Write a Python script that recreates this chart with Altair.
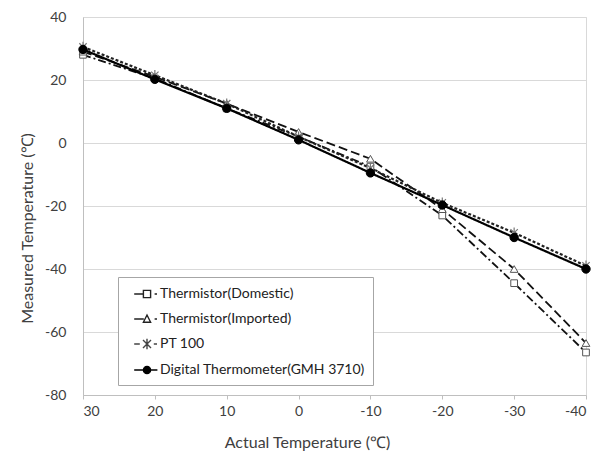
import altair as alt
import pandas as pd

actual = [30, 20, 10, 0, -10, -20, -30, -40]
domestic = [28, 20.5, 11, 2, -7.5, -23, -44.5, -66.5]
imported = [29, 21, 12.5, 3.5, -5, -21, -40, -63.5]
pt100 = [30.5, 21.5, 12.5, 2, -8, -19, -28.5, -39]
digital = [29.7, 20.2, 11, 1, -9.5, -19.7, -30, -40]

series_names = ["Thermistor(Domestic)", "Thermistor(Imported)", "PT 100",
                "Digital Thermometer(GMH 3710)"]
series_values = [domestic, imported, pt100, digital]
x_ticks = [30, 20, 10, 0, -10, -20, -30, -40]
y_ticks = [40, 20, 0, -20, -40, -60, -80]

rows = []
for name, vals in zip(series_names, series_values):
    for a, v in zip(actual, vals):
        rows.append({"series": name, "actual": a, "measured": v})
df = pd.DataFrame(rows)

FONT = "Lato"
TXT = "#404040"

xenc = alt.X("actual:Q",
             scale=alt.Scale(domain=[30, -40], nice=False, zero=False),
             axis=alt.Axis(values=x_ticks, title="Actual Temperature (℃)",
                           labelExpr="toString(datum.value)",
                           grid=False, ticks=True, tickSize=4, tickColor="#bfbfbf",
                           domainColor="#bfbfbf", labelFontSize=14, labelColor=TXT,
                           labelPadding=5, labelFont=FONT, titleFont=FONT,
                           titleFontSize=16, titleFontWeight="normal", titleColor=TXT,
                           titleX=224, titleY=47, titleAlign="center",
                           titleBaseline="middle"))
yenc = alt.Y("measured:Q",
             scale=alt.Scale(domain=[-80, 40], nice=False, zero=False),
             axis=alt.Axis(values=y_ticks, title="Measured Temperature (℃)",
                           labelExpr="toString(datum.value)",
                           grid=True, gridColor="#d9d9d9", ticks=False,
                           domainColor="#bfbfbf", labelFontSize=14, labelColor=TXT,
                           labelPadding=17, labelFont=FONT, titleFont=FONT,
                           titleFontSize=16, titleFontWeight="normal", titleColor=TXT,
                           titleX=-56, titleY=211, titleAngle=270, titleAlign="center",
                           titleBaseline="middle"))

base = alt.Chart(df)

dashes = [[8, 3, 2, 3], [9, 4], [3, 2], [1, 0]]
widths = [1.8, 1.8, 2.2, 2.2]
line_colors = ["#111111", "#111111", "#222222", "#000000"]

ASTER = "M-0.7,-0.7L0.7,0.7M-0.7,0.7L0.7,-0.7M0,-1L0,1"

layers = []
for i, name in enumerate(series_names):
    sub = base.transform_filter(alt.datum.series == name)
    layers.append(sub.mark_line(color=line_colors[i], strokeWidth=widths[i],
                                strokeDash=dashes[i]).encode(x=xenc, y=yenc))
point_specs = [
    dict(shape="square", filled=True, fill="white", stroke="#555555", strokeWidth=1, size=45),
    dict(shape="triangle-up", filled=True, fill="white", stroke="#555555", strokeWidth=1, size=60),
    dict(shape=ASTER, filled=False, stroke="#777777", strokeWidth=1.2, size=110),
    dict(shape="circle", filled=True, fill="black", stroke="black", strokeWidth=1, size=70),
]
for i, name in enumerate(series_names):
    sub = base.transform_filter(alt.datum.series == name)
    layers.append(sub.mark_point(opacity=1, **point_specs[i]).encode(x=xenc, y=yenc))

# legend-only layer (no data drawn) with combined line+marker symbols
legend_paths = [
    "M-0.1,0H1.05M1.05,-0.45H1.95V0.45H1.05ZM2.45,0H2.75",
    "M-0.1,0H1.1M1.5,-0.5L1.95,0.4H1.05ZM2.45,0H2.75",
    "M-0.1,0H0.6M1.0,-0.5L2.0,0.5M1.0,0.5L2.0,-0.5M1.5,-0.65V0.65M2.35,0H2.75",
    "M-0.1,0H2.8M1.05,0A0.45,0.45 0 1,0 1.95,0A0.45,0.45 0 1,0 1.05,0Z",
]
legend_fills = ["white", "white", "white", "black"]
legend_strokes = ["#222222", "#222222", "#444444", "black"]
leg = dict(title=None, orient="none", legendX=35, legendY=260)
legend_layer = base.transform_filter("false").mark_point(
    filled=True, strokeWidth=1.4, size=256, opacity=1
).encode(
    x=xenc, y=yenc,
    shape=alt.Shape("series:N",
                    scale=alt.Scale(domain=series_names, range=legend_paths),
                    legend=alt.Legend(labelFont=FONT, labelFontSize=14, labelColor="#222222",
                                      labelOffset=16, symbolSize=256, rowPadding=9,
                                      padding=8, strokeColor="#a6a6a6", fillColor="white",
                                      symbolStrokeWidth=1.4,
                                      symbolOpacity=1, labelLimit=400, **leg)),
    fill=alt.Fill("series:N",
                  scale=alt.Scale(domain=series_names, range=legend_fills),
                  legend=alt.Legend(**leg)),
    stroke=alt.Stroke("series:N",
                      scale=alt.Scale(domain=series_names, range=legend_strokes),
                      legend=alt.Legend(**leg)),
)
layers.append(legend_layer)

chart = alt.layer(*layers).properties(
    width=503, height=378,
    autosize=alt.AutoSizeParams(type="none"),
    padding={"left": 83, "top": 17, "right": 17, "bottom": 63},
    background="white",
).configure_view(stroke="#d9d9d9", strokeWidth=1)

chart.save("out.html", embed_options={"renderer": "svg", "actions": False})
